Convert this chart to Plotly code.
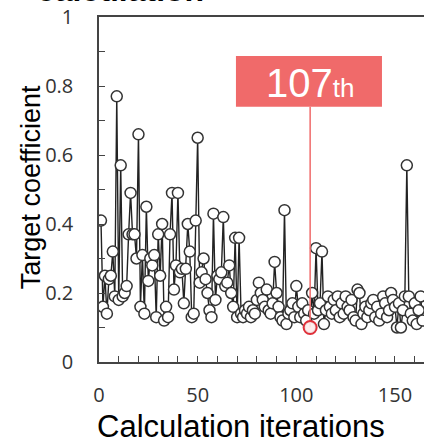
import plotly.graph_objects as go

iterations = list(range(1, 165))
target_coef = [
    0.41, 0.16, 0.25, 0.14, 0.24, 0.25, 0.32, 0.19, 0.77, 0.18,
    0.57, 0.19, 0.20, 0.22, 0.37, 0.49, 0.37, 0.37, 0.30, 0.66,
    0.16, 0.31, 0.14, 0.45, 0.235, 0.30, 0.28, 0.31, 0.13, 0.37,
    0.25, 0.40, 0.12, 0.16, 0.13, 0.37, 0.49, 0.21, 0.28, 0.49,
    0.26, 0.27, 0.17, 0.27, 0.40, 0.32, 0.13, 0.14, 0.41, 0.65,
    0.23, 0.26, 0.30, 0.24, 0.20, 0.15, 0.13, 0.43, 0.18, 0.25,
    0.24, 0.26, 0.42, 0.22, 0.23, 0.28, 0.20, 0.16, 0.36, 0.13,
    0.36, 0.14, 0.13, 0.15, 0.14, 0.16, 0.13, 0.15, 0.14, 0.18,
    0.23, 0.20, 0.18, 0.16, 0.21, 0.15, 0.14, 0.17, 0.29, 0.20,
    0.16, 0.13, 0.12, 0.44, 0.11, 0.14, 0.15, 0.17, 0.13, 0.22,
    0.16, 0.13, 0.17, 0.14, 0.12, 0.15, 0.10, 0.20, 0.14, 0.33,
    0.15, 0.17, 0.32, 0.11, 0.15, 0.19, 0.16, 0.14, 0.18, 0.15,
    0.19, 0.13, 0.17, 0.14, 0.19, 0.16, 0.15, 0.18, 0.13, 0.12,
    0.21, 0.20, 0.11, 0.14, 0.16, 0.13, 0.15, 0.17, 0.18, 0.13,
    0.16, 0.12, 0.14, 0.19, 0.17, 0.13, 0.15, 0.20, 0.18, 0.16,
    0.10, 0.17, 0.10, 0.15, 0.19, 0.57, 0.19, 0.14, 0.12, 0.17,
    0.11, 0.15, 0.19, 0.12,
]
best_iter = 107
best_value = target_coef[iterations.index(best_iter)]
x_ticks = [0, 50, 100, 150]
y_ticks = [0, 0.2, 0.4, 0.6, 0.8, 1]
y_tick_text = ["0", "0.2", "0.4", "0.6", "0.8", "1"]

RED = "#F06A6A"

fig = go.Figure()
fig.add_trace(go.Scatter(
    x=iterations, y=target_coef, mode="lines+markers",
    line=dict(color="#222222", width=1.4),
    marker=dict(size=11, color="white", line=dict(color="#333333", width=1.5)),
    showlegend=False, hoverinfo="x+y",
))
# highlight line from best point to label box
fig.add_trace(go.Scatter(
    x=[best_iter, best_iter], y=[best_value, 0.74], mode="lines",
    line=dict(color=RED, width=1.5), showlegend=False, hoverinfo="skip",
))
fig.add_trace(go.Scatter(
    x=[best_iter], y=[best_value], mode="markers",
    marker=dict(size=13, color="rgba(255,235,235,0.9)", line=dict(color="#E0303A", width=2)),
    showlegend=False,
))

fig.add_shape(type="rect", xref="x", yref="y", x0=69.4, x1=143.4, y0=0.74, y1=0.887,
              fillcolor=RED, line=dict(width=0), layer="above")
fig.add_annotation(x=best_iter, y=0.81, xref="x", yref="y", showarrow=False,
                   text=f"{best_iter}<span style='font-size:26px'>th</span>",
                   font=dict(family="Liberation Sans, Arial", size=40, color="white"),
                   xanchor="center", yanchor="middle")

fig.add_annotation(x=-0.197, y=1.020, xref="paper", yref="paper", showarrow=False,
                   text="<b>calculation</b>", xanchor="left", yanchor="bottom",
                   font=dict(family="Liberation Sans, Arial", size=32, color="black"))
fig.add_annotation(x=-0.209, y=0.507, xref="paper", yref="paper", showarrow=False,
                   text="Target coefficient", textangle=-90, xanchor="center", yanchor="middle",
                   font=dict(family="Liberation Sans, Arial", size=27, color="black"))
fig.add_annotation(x=0.437, y=-0.186, xref="paper", yref="paper", showarrow=False,
                   text="Calculation iterations", xanchor="center", yanchor="middle",
                   font=dict(family="Liberation Sans, Arial", size=31, color="black"))

fig.update_xaxes(range=[0, 164.7], tickvals=x_ticks, ticks="inside", ticklen=6,
                 showline=True, linecolor="#444444", linewidth=1.5, mirror=True,
                 showgrid=False, zeroline=False, automargin=False,
                 minor=dict(dtick=10, tick0=0, ticks="inside", ticklen=6, tickcolor="#444444"),
                 tickcolor="#444444",
                 tickfont=dict(family="Open Sans, DejaVu Sans", size=20, color="#333333"),
                 ticklabelstandoff=14)
fig.update_yaxes(range=[0, 1], tickvals=y_ticks, ticktext=y_tick_text, ticks="inside", ticklen=6,
                 showline=True, linecolor="#444444", linewidth=1.5, mirror=False,
                 showgrid=False, zeroline=False, automargin=False,
                 minor=dict(dtick=0.1, tick0=0, ticks="inside", ticklen=6, tickcolor="#444444"),
                 tickcolor="#444444",
                 tickfont=dict(family="Open Sans, DejaVu Sans", size=20, color="#333333"),
                 ticklabelstandoff=20)

fig.update_layout(width=424, height=439, margin=dict(l=99, r=0, t=17, b=77),
                  plot_bgcolor="white", paper_bgcolor="white")
fig.write_html("out.html", config={"displayModeBar": False},
               post_script="document.body.style.margin='0';document.body.style.overflow='hidden';")
